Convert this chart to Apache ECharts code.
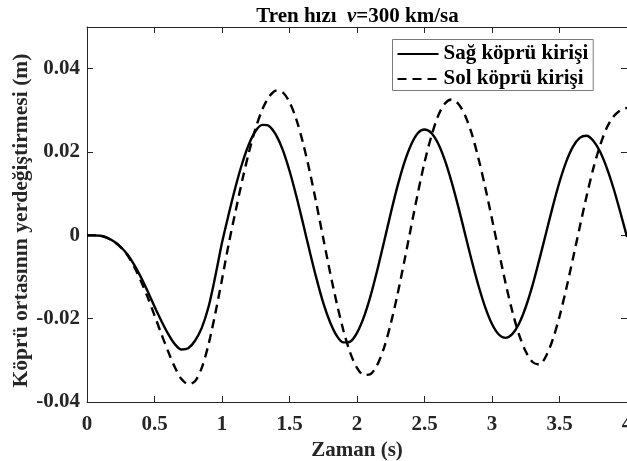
<!DOCTYPE html>
<html><head><meta charset="utf-8">
<script src="https://cdn.jsdelivr.net/npm/echarts@6/dist/echarts.min.js"></script>
<style>html,body{margin:0;padding:0;background:#fff}#c{width:627px;height:461px}</style>
</head><body><div id="c"></div>
<script>
const times = [0.00,0.05,0.10,0.15,0.20,0.25,0.30,0.35,0.40,0.45,0.50,0.55,0.60,0.65,0.70,0.75,0.80,0.85,0.90,0.95,
1.00,1.05,1.10,1.15,1.20,1.25,1.30,1.35,1.40,1.45,1.50,1.55,1.60,1.65,1.70,1.75,1.80,1.85,1.90,1.95,
2.00,2.05,2.10,2.15,2.20,2.25,2.30,2.35,2.40,2.45,2.50,2.55,2.60,2.65,2.70,2.75,2.80,2.85,2.90,2.95,
3.00,3.05,3.10,3.15,3.20,3.25,3.30,3.35,3.40,3.45,3.50,3.55,3.60,3.65,3.70,3.75,3.80,3.85,3.90,3.95,4.00];
const sagKopruKirisi = [0,0,-0.0001,-0.0006,-0.0015,-0.0028,-0.0046,-0.0071,-0.0101,-0.0135,-0.0171,-0.0205,-0.0236,-0.0261,-0.0274,-0.0271,-0.0253,-0.0222,-0.0172,-0.0099,
-0.0018,0.0051,0.0116,0.0173,0.0219,0.0251,0.0265,0.0262,0.0241,0.0205,0.0155,0.0095,0.0029,-0.0039,-0.0104,-0.0162,-0.0208,-0.0241,-0.0257,-0.0255,
-0.0234,-0.0197,-0.0146,-0.0084,-0.0016,0.0053,0.0118,0.0174,0.0217,0.0245,0.0254,0.0246,0.0221,0.0181,0.0129,0.0069,0.0004,-0.0061,-0.0121,-0.0173,
-0.0213,-0.0238,-0.0246,-0.0237,-0.0212,-0.0172,-0.0120,-0.0059,0.0005,0.0069,0.0128,0.0177,0.0213,0.0234,0.0239,0.0227,0.0201,0.0162,0.0113,0.0056,-0.0004];
const solKopruKirisi = [0,0,-0.0001,-0.0006,-0.0015,-0.0029,-0.0048,-0.0076,-0.0110,-0.0149,-0.0192,-0.0236,-0.0278,-0.0316,-0.0345,-0.0357,-0.0350,-0.0318,-0.0262,-0.0188,
-0.0106,-0.0020,0.0057,0.0132,0.0200,0.0258,0.0303,0.0333,0.0347,0.0343,0.0320,0.0279,0.0222,0.0153,0.0075,-0.0007,-0.0088,-0.0163,-0.0229,-0.0282,
-0.0318,-0.0335,-0.0333,-0.0311,-0.0270,-0.0212,-0.0142,-0.0063,0.0019,0.0100,0.0175,0.0237,0.0286,0.0316,0.0326,0.0316,0.0288,0.0244,0.0184,0.0115,
0.0039,-0.0038,-0.0114,-0.0182,-0.0238,-0.0279,-0.0304,-0.0310,-0.0290,-0.0250,-0.0195,-0.0128,-0.0055,0.0020,0.0093,0.0160,0.0215,0.0258,0.0285,0.0300,0.0306];
const seriesNames = ['Sağ köprü kirişi', 'Sol köprü kirişi'];
const xRange = [0, 4, 0.5];
const yRange = [-0.04, 0.05, 0.02];

const FONT = "'Liberation Serif','Times New Roman',serif";
const AX = '#262626';
const chart = echarts.init(document.getElementById('c'), null, {renderer: 'canvas'});
const pairs = v => times.map((t, i) => [t, v[i]]);
const tickCommon = {show: true, inside: true, length: 6, lineStyle: {color: AX, width: 1}};
const lineCommon = {show: true, onZero: false, lineStyle: {color: AX, width: 1}};
const yFmt = v => Math.abs(v - yRange[1]) < 1e-9 ? '' : String(+v.toFixed(2));
const xFmt = v => String(+v.toFixed(2));

chart.setOption({
  animation: false,
  backgroundColor: '#fff',
  grid: {left: 87, top: 27, width: 540, height: 375, containLabel: false, outerBoundsMode: 'none'},
  graphic: [{
    type: 'text', x: 357.5, y: 17,
    style: {
      text: '{a|Tren hızı  }{b|v}{a|=300 km/sa}',
      align: 'center', verticalAlign: 'middle',
      rich: {
        a: {fontFamily: FONT, fontWeight: 'bold', fontSize: 21, fill: '#000', color: '#000'},
        b: {fontFamily: FONT, fontWeight: 'bold', fontStyle: 'italic', fontSize: 21, fill: '#000', color: '#000'}
      }
    }
  }],
  legend: {
    orient: 'vertical', left: 392.5, top: 39.5,
    padding: [4, 5, 1, 4], itemGap: 4, itemWidth: 41, itemHeight: 14,
    backgroundColor: '#fff', borderColor: '#7a7a7a', borderWidth: 1, borderRadius: 0,
    itemStyle: {color: 'rgba(0,0,0,0)', borderWidth: 0, borderColor: 'rgba(0,0,0,0)'},
    textStyle: {fontFamily: FONT, fontWeight: 'bold', fontSize: 21, color: '#000', lineHeight: 21},
    data: seriesNames
  },
  xAxis: [{
    type: 'value', min: xRange[0], max: xRange[1], interval: xRange[2], position: 'bottom',
    name: 'Zaman (s)', nameLocation: 'middle', nameGap: 38, nameMoveOverlap: false,
    nameTextStyle: {fontFamily: FONT, fontWeight: 'bold', fontSize: 21, color: AX},
    axisLine: lineCommon, axisTick: tickCommon, splitLine: {show: false},
    axisLabel: {margin: 12, fontFamily: FONT, fontWeight: 'bold', fontSize: 21, color: AX, formatter: xFmt, showMaxLabel: true, hideOverlap: false}
  }, {
    type: 'value', min: xRange[0], max: xRange[1], interval: xRange[2], position: 'top',
    axisLine: lineCommon, axisTick: tickCommon, splitLine: {show: false}, axisLabel: {show: false}
  }],
  yAxis: [{
    type: 'value', min: yRange[0], max: yRange[1], interval: yRange[2], position: 'left',
    name: 'Köprü ortasının yerdeğiştirmesi (m)', nameLocation: 'middle', nameGap: 55, nameMoveOverlap: false,
    nameTextStyle: {fontFamily: FONT, fontWeight: 'bold', fontSize: 21.6, color: AX, padding: [0, 12, 0, 0]},
    axisLine: lineCommon, axisTick: tickCommon, splitLine: {show: false},
    axisLabel: {margin: 7, fontFamily: FONT, fontWeight: 'bold', fontSize: 21, color: AX, formatter: yFmt, hideOverlap: false}
  }, {
    type: 'value', min: yRange[0], max: yRange[1], interval: yRange[2], position: 'right',
    axisLine: lineCommon, axisTick: tickCommon, splitLine: {show: false}, axisLabel: {show: false}
  }],
  series: [{
    name: seriesNames[0], type: 'line', data: pairs(sagKopruKirisi), symbol: 'none', smooth: 0.3,
    lineStyle: {color: '#000', width: 2.4, type: 'solid'}, itemStyle: {color: '#000'}
  }, {
    name: seriesNames[1], type: 'line', data: pairs(solKopruKirisi), symbol: 'none', smooth: 0.3,
    lineStyle: {color: '#000', width: 2.4, type: [9, 6]}, itemStyle: {color: '#000'}
  }]
});
</script></body></html>
